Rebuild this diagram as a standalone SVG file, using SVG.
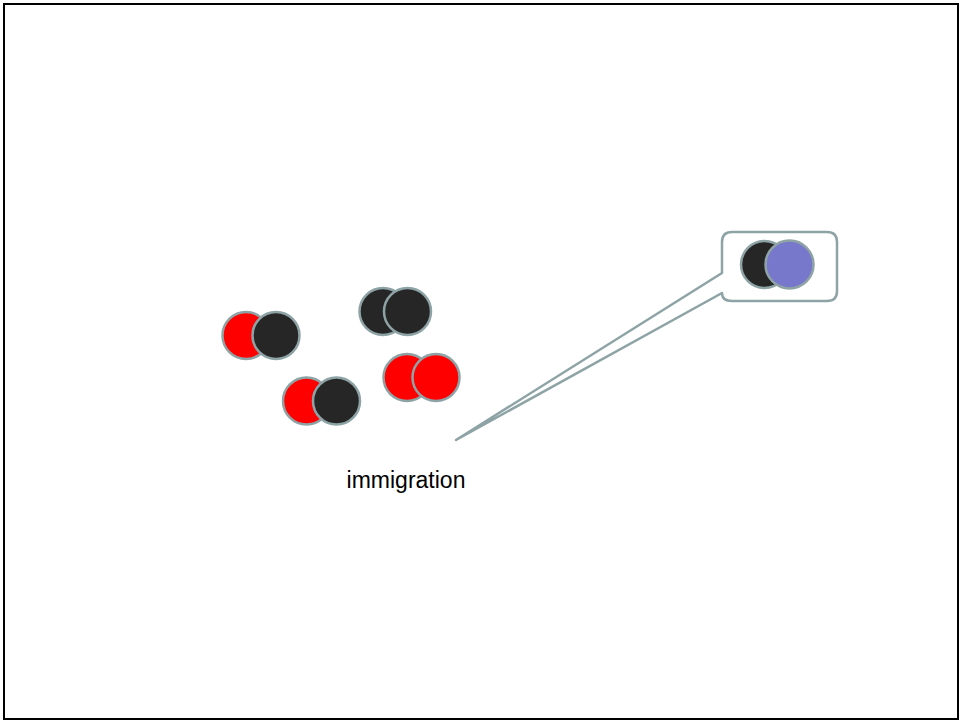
<svg xmlns="http://www.w3.org/2000/svg" width="960" height="721" viewBox="0 0 960 721">
  <style>
    .atom { stroke: #8ea3a5; stroke-width: 2.5; }
    .red { fill: #ff0000; }
    .dark { fill: #262626; }
    .violet { fill: #7777cc; }
    .callout { fill: #ffffff; stroke: #8ea3a5; stroke-width: 2.5; stroke-linejoin: round; }
    .label { font-family: "Liberation Sans", Arial, sans-serif; font-size: 23px; fill: #000000; }
  </style>
  <rect x="0" y="0" width="960" height="721" fill="#ffffff"/>
  <rect x="4" y="4" width="954" height="715" fill="none" stroke="#000000" stroke-width="2"/>

  <g id="connectors">
    <!-- speech-bubble callout with a tail pointing down to the label -->
    <path class="callout" d="M 732 232 H 827 Q 837 232 837 242 V 291 Q 837 301 827 301 H 732 Q 722 301 722 293 L 456 440 L 722 273 V 242 Q 722 232 732 232 Z"/>
  </g>

  <g id="pair-red-dark">
    <circle class="atom red" cx="246" cy="335.5" r="23.5"/>
    <circle class="atom dark" cx="276" cy="335.5" r="23.5"/>
  </g>

  <g id="pair-dark-dark">
    <circle class="atom dark" cx="383" cy="311.5" r="23.5"/>
    <circle class="atom dark" cx="407.5" cy="311.5" r="23.5"/>
  </g>

  <g id="pair-red-dark-2">
    <circle class="atom red" cx="306.5" cy="401" r="23.5"/>
    <circle class="atom dark" cx="336.5" cy="401" r="23.5"/>
  </g>

  <g id="pair-red-red">
    <circle class="atom red" cx="407" cy="377.5" r="23.5"/>
    <circle class="atom red" cx="436" cy="377.5" r="23.5"/>
  </g>

  <g id="pair-immigrant">
    <circle class="atom dark" cx="764.5" cy="264.5" r="23.5"/>
    <circle class="atom violet" cx="789.5" cy="264.5" r="24"/>
  </g>

  <g id="label-immigration">
    <text class="label" x="406" y="488" text-anchor="middle">immigration</text>
  </g>
</svg>
